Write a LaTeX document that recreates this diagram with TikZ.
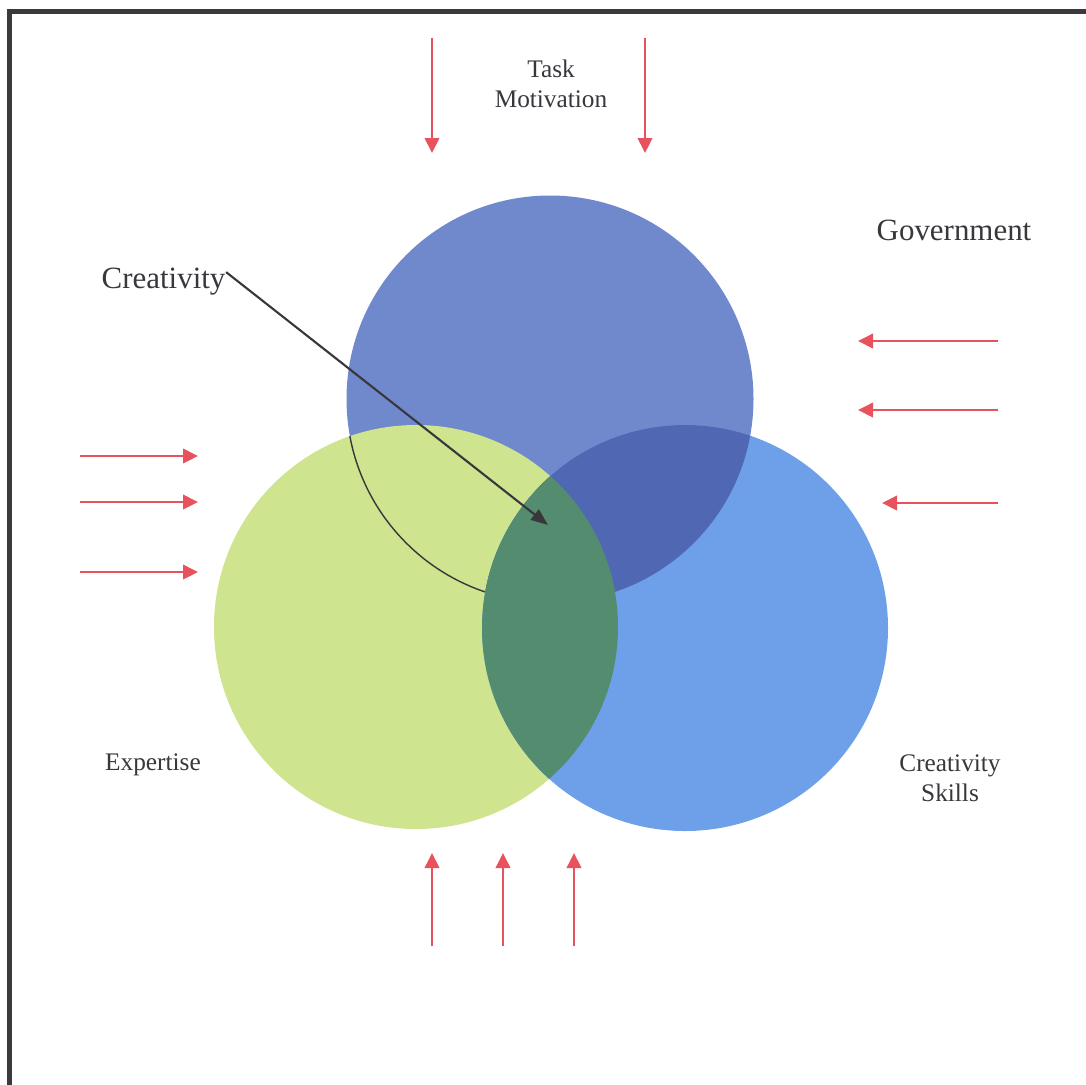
\documentclass[tikz,border=0pt]{standalone}
\usepackage{fontspec}
\setmainfont{Liberation Serif}
\usepackage{xcolor}
\usetikzlibrary{arrows.meta}
\definecolor{topblue}{RGB}{112,136,204}
\definecolor{limegreen}{RGB}{206,228,142}
\definecolor{skyblue}{RGB}{110,160,233}
\definecolor{deepblue}{RGB}{80,104,180}
\definecolor{deepgreen}{RGB}{84,140,112}
\definecolor{arrowred}{RGB}{232,82,92}
\definecolor{labelgray}{RGB}{55,55,60}
\definecolor{framegray}{RGB}{60,56,62}

\begin{document}
\begin{tikzpicture}[
    redarrow/.style={-{Triangle[length=0.15cm, width=0.145cm]}, line width=0.6pt, arrowred},
    pointer/.style={-{Triangle[length=0.17cm, width=0.13cm]}, line width=0.6pt, labelgray},
    smalllabel/.style={font=\fontsize{7.2}{8.4}\selectfont, text=labelgray, align=center},
    biglabel/.style={font=\fontsize{8.8}{10.5}\selectfont, text=labelgray}]
    \useasboundingbox (0,0) rectangle (10.86,10.84);
    \clip (0,0) rectangle (10.86,10.84);
    \draw[framegray, line width=1.2pt] (0.095,-0.2) rectangle (11.2,10.725);

    % the three circles
    \fill[topblue] (5.50,6.85) circle (2.035);
    \fill[limegreen] (4.16,4.57) circle (2.02);
    \begin{scope}
        \clip (4.16,4.57) circle (2.02);
        \draw[labelgray, line width=0.4pt] (5.50,6.85) circle (2.035);
    \end{scope}
    \fill[skyblue] (6.85,4.56) circle (2.03);
    \begin{scope}
        \clip (6.85,4.56) circle (2.03);
        \fill[deepblue] (5.50,6.85) circle (2.035);
        \fill[deepgreen] (4.16,4.57) circle (2.02);
    \end{scope}

    % labels
    \node[smalllabel] (task) at (5.51,10.0) {Task\\Motivation};
    \node[biglabel] (gov) at (9.54,8.54) {Government};
    \node[smalllabel] (expert) at (1.53,3.19) {Expertise};
    \node[smalllabel] (skills) at (9.50,3.06) {Creativity\\Skills};
    \node[biglabel, anchor=base west, inner sep=0pt] (crea) at (1.01,7.96) {Creativity};

    \coordinate (core) at (5.48,5.59);
    \draw[pointer] ([yshift=-1.5pt]crea.north east) -- (core);

    % influences from outside
    \foreach \x [count=\i] in {4.32,6.45} {
        \coordinate (top-s\i) at (\x,10.46);
        \coordinate (top-e\i) at (\x,9.31);
        \draw[redarrow] (top-s\i) -- (top-e\i);
    }
    \foreach \y/\e [count=\i] in {7.43/8.58,6.74/8.58,5.81/8.82} {
        \coordinate (gov-s\i) at (9.98,\y);
        \coordinate (gov-e\i) at (\e,\y);
        \draw[redarrow] (gov-s\i) -- (gov-e\i);
    }
    \foreach \y [count=\i] in {6.28,5.82,5.12} {
        \coordinate (exp-s\i) at (0.80,\y);
        \coordinate (exp-e\i) at (1.98,\y);
        \draw[redarrow] (exp-s\i) -- (exp-e\i);
    }
    \foreach \x [count=\i] in {4.32,5.03,5.74} {
        \coordinate (bot-s\i) at (\x,1.38);
        \coordinate (bot-e\i) at (\x,2.31);
        \draw[redarrow] (bot-s\i) -- (bot-e\i);
    }
\end{tikzpicture}
\end{document}
